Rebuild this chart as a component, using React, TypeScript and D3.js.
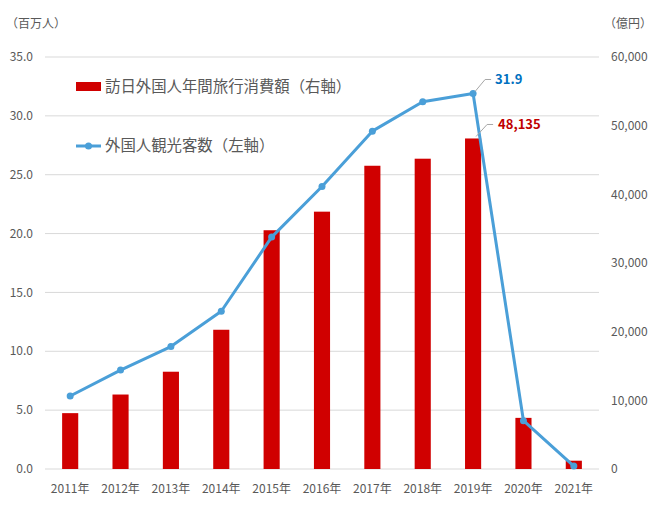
import * as d3 from "d3";

const years = ["2011年", "2012年", "2013年", "2014年", "2015年", "2016年", "2017年", "2018年", "2019年", "2020年", "2021年"];
const visitors = [6.2, 8.4, 10.4, 13.4, 19.7, 24.0, 28.7, 31.2, 31.9, 4.1, 0.25];
const spending = [8135, 10846, 14167, 20278, 34771, 37476, 44162, 45189, 48135, 7446, 1208];
const leftTicks = [0, 5, 10, 15, 20, 25, 30, 35];
const rightTicks = [0, 10000, 20000, 30000, 40000, 50000, 60000];

const W = 659;
const H = 527;
const PLOT = { left: 45, right: 599, top: 57, bottom: 469 };
const FONT = "'Noto Sans CJK JP', 'Noto Sans', sans-serif";
const TEXT = "#595959";
const RED = "#d00000";
const BLUE = "#4a9fd8";

export default function App() {
  const x = d3.scaleBand<string>().domain(years).range([PLOT.left, PLOT.right]).paddingInner(0).paddingOuter(0);
  const yL = d3.scaleLinear().domain([0, 35]).range([PLOT.bottom, PLOT.top]);
  const yR = d3.scaleLinear().domain([0, 60000]).range([PLOT.bottom, PLOT.top]);
  const barW = x.bandwidth() * 0.32;
  const cx = (i: number) => (x(years[i]) ?? 0) + x.bandwidth() / 2;

  const line = d3
    .line<number>()
    .x((_, i) => cx(i))
    .y((d) => yL(d));

  const fmtR = d3.format(",");
  const peak = 8;
  const px = cx(peak);
  const pyL = yL(visitors[peak]);
  const pyR = yR(spending[peak]);

  return (
    <svg width={W} height={H} style={{ position: "absolute", left: 0, top: 0, background: "#fff" }} fontFamily={FONT}>
      {/* grid */}
      {leftTicks.map((t) => (
        <line key={t} x1={PLOT.left} x2={PLOT.right} y1={yL(t)} y2={yL(t)} stroke="#d9d9d9" strokeWidth={1} />
      ))}
      {/* left axis */}
      {leftTicks.map((t) => (
        <text key={t} x={33} y={yL(t)} dy="0.35em" textAnchor="end" fontSize={12} fill={TEXT}>
          {t.toFixed(1)}
        </text>
      ))}
      {/* right axis */}
      {rightTicks.map((t) => (
        <text key={t} x={611} y={yR(t)} dy="0.35em" textAnchor="start" fontSize={12} fill={TEXT}>
          {fmtR(t)}
        </text>
      ))}
      <text x={6} y={28} fontSize={12} fill={TEXT}>（百万人）</text>
      <text x={604} y={28} fontSize={12} fill={TEXT}>（億円）</text>
      {/* x labels */}
      {years.map((y, i) => (
        <text key={y} x={cx(i)} y={489} dy="0.35em" textAnchor="middle" fontSize={12} fill={TEXT}>
          {y}
        </text>
      ))}
      {/* bars */}
      {spending.map((v, i) => (
        <rect key={i} x={cx(i) - barW / 2} y={yR(v)} width={barW} height={PLOT.bottom - yR(v)} fill={RED} />
      ))}
      {/* line */}
      <path d={line(visitors) ?? ""} fill="none" stroke={BLUE} strokeWidth={3} strokeLinejoin="round" />
      {visitors.map((v, i) => (
        <circle key={i} cx={cx(i)} cy={yL(v)} r={3.5} fill={BLUE} />
      ))}
      {/* data labels */}
      <polyline points={`${px + 2},${pyL - 2} ${px + 12},${pyL - 14} ${px + 18},${pyL - 14}`} fill="none" stroke="#a6a6a6" strokeWidth={1} />
      <text x={px + 22} y={pyL - 14} dy="0.35em" fontSize={13} fontWeight="bold" fill="#0070c0">
        {visitors[peak].toFixed(1)}
      </text>
      <polyline points={`${px + 3},${pyR - 2} ${px + 14},${pyR - 14} ${px + 20},${pyR - 14}`} fill="none" stroke="#a6a6a6" strokeWidth={1} />
      <text x={px + 25} y={pyR - 14} dy="0.35em" fontSize={13} fontWeight="bold" fill="#c00000">
        {fmtR(spending[peak])}
      </text>
      {/* legend */}
      <rect x={76} y={82} width={25} height={9} fill={RED} />
      <text x={105} y={87} dy="0.35em" fontSize={15.4} fill={TEXT}>訪日外国人年間旅行消費額（右軸）</text>
      <line x1={76} x2={101} y1={146} y2={146} stroke={BLUE} strokeWidth={3} />
      <circle cx={88.5} cy={146} r={3.5} fill={BLUE} />
      <text x={105} y={146} dy="0.35em" fontSize={15.4} fill={TEXT}>外国人観光客数（左軸）</text>
    </svg>
  );
}
